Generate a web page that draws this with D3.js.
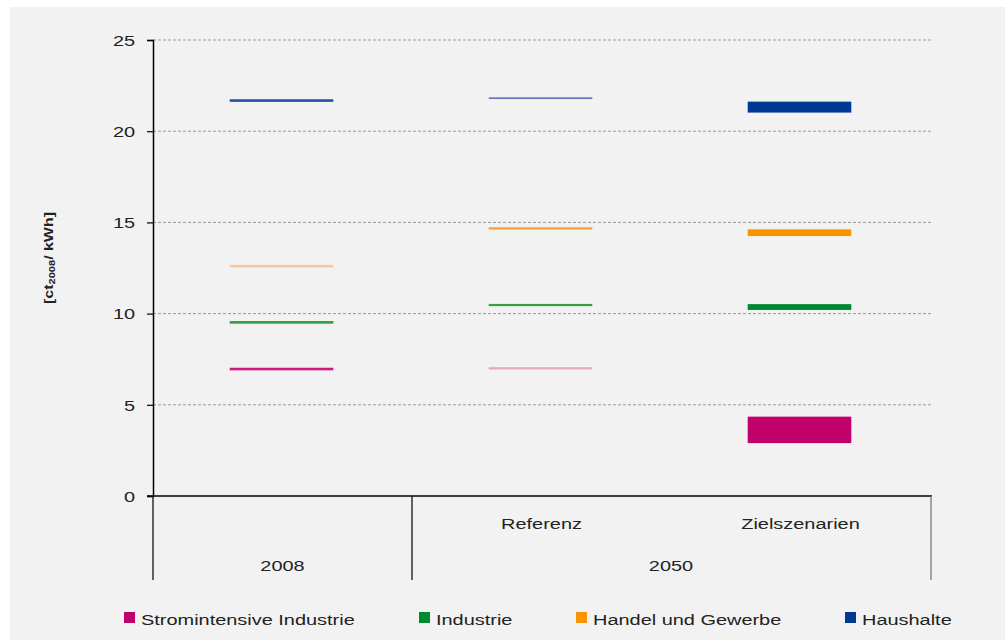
<!DOCTYPE html>
<html>
<head>
<meta charset="utf-8">
<script src="https://cdn.jsdelivr.net/npm/d3@7"></script>
<style>
  body { margin: 0; background: #fff; }
  text { font-family: "Liberation Sans", Arial, sans-serif; fill: #222; }
</style>
</head>
<body>
<svg id="chart"></svg>
<script>
const categories = ["2008", "Referenz", "Zielszenarien"];
const groups = ["2008", "2050"];
const series = ["Stromintensive Industrie", "Industrie", "Handel und Gewerbe", "Haushalte"];

// low / high value per category (2008, Referenz, Zielszenarien)
const stromLow = [6.96, 7.0, 2.9];
const stromHigh = [6.96, 7.0, 4.35];
const industrieLow = [9.52, 10.47, 10.2];
const industrieHigh = [9.52, 10.47, 10.52];
const handelLow = [12.6, 14.67, 14.25];
const handelHigh = [12.6, 14.67, 14.62];
const haushalteLow = [21.68, 21.8, 21.02];
const haushalteHigh = [21.68, 21.8, 21.62];

const yTicks = [0, 5, 10, 15, 20, 25];

// colours per series, one per category
const colors = [
    ["#cc1a80", "#e0a8c2", "#c0006b"],
    ["#2e9e44", "#35a045", "#008a30"],
    ["#f8c9a0", "#f4a035", "#f79400"],
    ["#2650a8", "#6a7cbb", "#003893"]
];
const legendColors = ["#c0006b", "#008a30", "#f79400", "#003893"];
const lineWidths = [2.6, 2.2];

const lows = [stromLow, industrieLow, handelLow, haushalteLow];
const highs = [stromHigh, industrieHigh, handelHigh, haushalteHigh];

const width = 1005, height = 640;
const sx = 1.33; // picture is stretched horizontally

const svg = d3.select("#chart").attr("width", width).attr("height", height);

svg.append("rect")
    .attr("x", 10).attr("y", 7)
    .attr("width", width - 10).attr("height", height - 7)
    .attr("fill", "#f2f2f2");

const x = d3.scaleBand().domain(categories).range([153, 930]);
const y = d3.scaleLinear().domain([0, 25]).range([496, 40]);

// gridlines
svg.selectAll("line.grid")
    .data(yTicks.filter(d => d > 0))
    .enter()
    .append("line")
    .attr("x1", 153).attr("x2", 931)
    .attr("y1", d => y(d)).attr("y2", d => y(d))
    .attr("stroke", "#9a9a9a")
    .attr("stroke-width", 1)
    .attr("stroke-dasharray", "3,2");

// y axis
const yAxis = svg.append("g")
    .attr("transform", "translate(153,0)")
    .call(d3.axisLeft(y).tickValues(yTicks).tickSize(6).tickPadding(7.5).tickFormat(d3.format("d")));
yAxis.select(".domain").attr("stroke", "#000").attr("stroke-width", 1.5);
yAxis.selectAll(".tick line").attr("stroke", "#000").attr("stroke-width", 1.2);
yAxis.selectAll(".tick text")
    .attr("transform", `scale(${sx},1)`)
    .style("font-size", "15px")
    .attr("fill", "#222")
    .attr("dy", "0.35em");

// x axis line and separators
svg.append("line")
    .attr("x1", 147).attr("x2", 932)
    .attr("y1", y(0)).attr("y2", y(0))
    .attr("stroke", "#000").attr("stroke-width", 1.5);

const seps = [x.range()[0], x("Referenz"), x.range()[1] + 1];
svg.selectAll("line.sep")
    .data(seps)
    .enter()
    .append("line")
    .attr("x1", d => d).attr("x2", d => d)
    .attr("y1", y(0)).attr("y2", 580)
    .attr("stroke", (d, i) => i == 2 ? "#777" : "#111")
    .attr("stroke-width", 1.3);

function label(xp, yp, str, anchor) {
    return svg.append("text")
        .attr("transform", `translate(${xp},${yp}) scale(${sx},1)`)
        .attr("text-anchor", anchor)
        .style("font-size", "15px")
        .text(str);
}

label(x("Referenz") + x.bandwidth() / 2, 529, "Referenz", "middle");
label(x("Zielszenarien") + x.bandwidth() / 2, 529, "Zielszenarien", "middle");
label(x("2008") + x.bandwidth() / 2, 571, groups[0], "middle");
label((x("Referenz") + x.range()[1]) / 2, 571, groups[1], "middle");

// y axis title
const yt = svg.append("text")
    .attr("transform", `translate(53,258) scale(1.05,1) rotate(-90)`)
    .attr("text-anchor", "middle")
    .style("font-size", "13px")
    .style("font-weight", "bold")
    .attr("textLength", 92)
    .attr("lengthAdjust", "spacingAndGlyphs");
yt.append("tspan").text("[ct");
yt.append("tspan").attr("dy", 2).style("font-size", "9px").text("2008");
yt.append("tspan").attr("dy", -2).text("/ kWh]");

// marks
const markW = x.bandwidth() * 0.4;
const marks = [];
series.forEach((s, si) => {
    categories.forEach((c, ci) => {
        marks.push({si: si, ci: ci, cat: c, low: lows[si][ci], high: highs[si][ci]});
    });
});

svg.selectAll("rect.mark")
    .data(marks)
    .enter()
    .append("rect")
    .attr("x", d => x(d.cat) + (x.bandwidth() - markW) / 2 - 1)
    .attr("width", markW)
    .attr("y", d => {
        if (d.high > d.low) return y(d.high);
        return y(d.high) - lineWidths[Math.min(d.ci, 1)] / 2;
    })
    .attr("height", d => {
        if (d.high > d.low) return y(d.low) - y(d.high);
        return (d.si == 3 && d.ci == 1) ? 1.8 : lineWidths[Math.min(d.ci, 1)];
    })
    .attr("fill", d => colors[d.si][d.ci]);

// legend
const legendX = [124, 419, 576, 845];
const lg = svg.selectAll("g.legend")
    .data(series)
    .enter()
    .append("g")
    .attr("transform", (d, i) => `translate(${legendX[i]},612)`);
lg.append("rect")
    .attr("width", 11).attr("height", 11)
    .attr("fill", (d, i) => legendColors[i]);
lg.append("text")
    .attr("transform", `translate(17,13) scale(${sx},1)`)
    .style("font-size", "15px")
    .text(d => d);
</script>
</body>
</html>
